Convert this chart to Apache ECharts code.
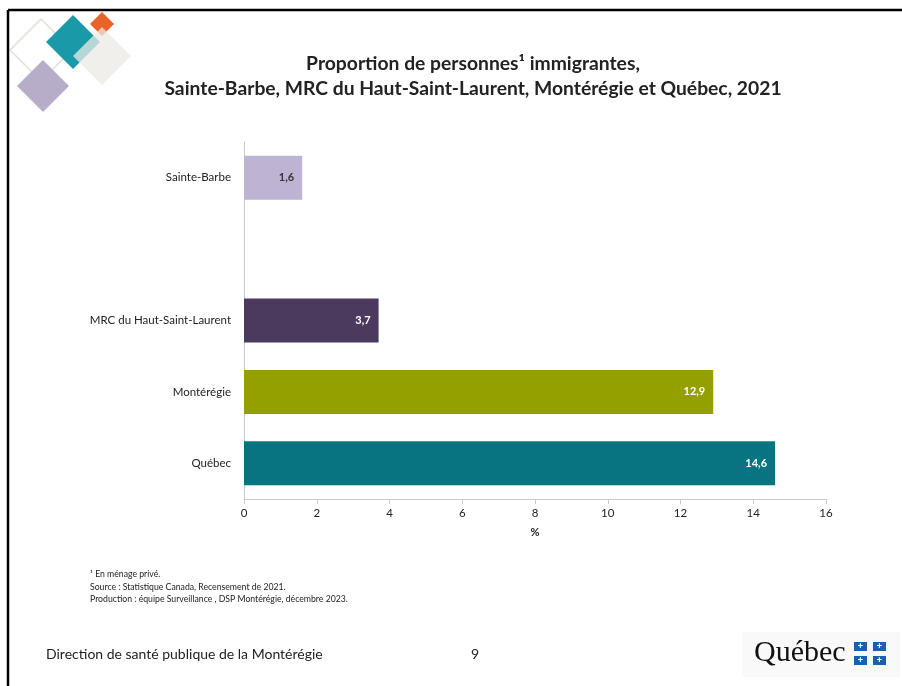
<!DOCTYPE html>
<html><head><meta charset="utf-8">
<script src="https://cdn.jsdelivr.net/npm/echarts@6/dist/echarts.min.js"></script>
<style>html,body{margin:0;padding:0;background:#fff}#c{width:902px;height:686px}</style>
</head><body><div id="c"></div>
<script>
const categories = ['Québec', 'Montérégie', 'MRC du Haut-Saint-Laurent', '', 'Sainte-Barbe'];
const values = [14.6, 12.9, 3.7, null, 1.6];
const barColors = ['#087482', '#94a000', '#4b3a5e', '#ffffff', '#bfb3d3'];
const labelColors = ['#ffffff', '#ffffff', '#ffffff', '#ffffff', '#333333'];
const xTicks = { min: 0, max: 16, interval: 2 };
const titleText = 'Proportion de personnes¹ immigrantes,\nSainte-Barbe, MRC du Haut-Saint-Laurent, Montérégie et Québec, 2021';
const notes = ['¹ En ménage privé.', 'Source : Statistique Canada, Recensement de 2021.', 'Production : équipe Surveillance , DSP Montérégie, décembre 2023.'];

const F = 'Lato, "Open Sans", sans-serif';
const chart = echarts.init(document.getElementById('c'), null, { renderer: 'canvas' });

function diamond(cx, cy, h, fill, stroke, opacity, z) {
  return { type: 'polygon', z: z, shape: { points: [[cx, cy - h], [cx + h, cy], [cx, cy + h], [cx - h, cy]] },
    style: { fill: fill, stroke: stroke || null, lineWidth: stroke ? 1.5 : 0, opacity: opacity } };
}

const graphics = [
  { type: 'line', z: 10, shape: { x1: 8, y1: 10, x2: 902, y2: 10 }, style: { stroke: '#000', lineWidth: 2.5 } },
  { type: 'line', z: 10, shape: { x1: 8, y1: 10, x2: 8, y2: 686 }, style: { stroke: '#000', lineWidth: 2.5 } },
  diamond(41, 50, 31, 'none', '#dde1d4', 1, 1),
  diamond(73, 42, 27, '#1a9aa8', null, 1, 2),
  diamond(102, 24, 12, '#e8622a', null, 1, 2),
  diamond(102, 56, 29, '#ece9e6', null, 0.75, 3),
  diamond(43, 86, 26, '#b7adc9', null, 1, 4),
  { type: 'text', left: 90, top: 568, style: { text: notes.join('\n'), font: '8.7px ' + F, fill: '#222', lineHeight: 12.5 } },
  { type: 'text', left: 46, top: 647, style: { text: 'Direction de santé publique de la Montérégie', font: '14px ' + F, fill: '#222' } },
  { type: 'text', left: 471, top: 647, style: { text: '9', font: '14px ' + F, fill: '#222' } },
  { type: 'rect', shape: { x: 742, y: 632, width: 158, height: 45 }, style: { fill: '#f9f9f9' } },
  { type: 'text', left: 754, top: 638, style: { text: 'Québec', font: '30px "Liberation Serif", serif', fill: '#111' } },
];
[[854, 642], [873, 642], [854, 656], [873, 656]].forEach(p => {
  graphics.push({ type: 'rect', shape: { x: p[0], y: p[1], width: 13, height: 9 }, style: { fill: '#1f5fa8' } });
  graphics.push({ type: 'text', style: { text: '+', x: p[0] + 6.5, y: p[1] + 4.5, align: 'center', verticalAlign: 'middle', font: 'bold 9px sans-serif', fill: '#fff' } });
});

chart.setOption({
  animation: false,
  backgroundColor: '#fff',
  title: { text: titleText, left: 468, top: 46, textAlign: 'center',
    textStyle: { fontFamily: F, fontSize: 19.3, fontWeight: 'bold', color: '#222', lineHeight: 25 } },
  grid: { left: 244, right: 76, top: 142, bottom: 187, containLabel: false },
  xAxis: { type: 'value', min: xTicks.min, max: xTicks.max, interval: xTicks.interval,
    name: '%', nameLocation: 'middle', nameGap: 28,
    nameTextStyle: { fontFamily: F, fontSize: 11, fontWeight: 'bold', color: '#222' },
    axisLine: { show: true, lineStyle: { color: '#c8c8c8' } },
    axisTick: { show: true, length: 5, lineStyle: { color: '#c8c8c8' } },
    axisLabel: { fontFamily: F, fontSize: 11.5, color: '#222', margin: 8 },
    splitLine: { show: false } },
  yAxis: { type: 'category', data: categories,
    axisLine: { show: true, lineStyle: { color: '#c8c8c8' } },
    axisTick: { show: false },
    axisLabel: { fontFamily: F, fontSize: 11.5, color: '#222', margin: 13 } },
  series: [{ type: 'bar', barWidth: 44,
    data: values.map((v, i) => ({ value: v, itemStyle: { color: barColors[i] },
      label: { color: labelColors[i] } })),
    label: { show: true, position: 'insideRight', distance: 8, fontFamily: F, fontSize: 11, fontWeight: 'bold',
      formatter: p => p.value == null ? '' : String(p.value).replace('.', ',') } }],
  graphic: graphics
});
</script></body></html>
